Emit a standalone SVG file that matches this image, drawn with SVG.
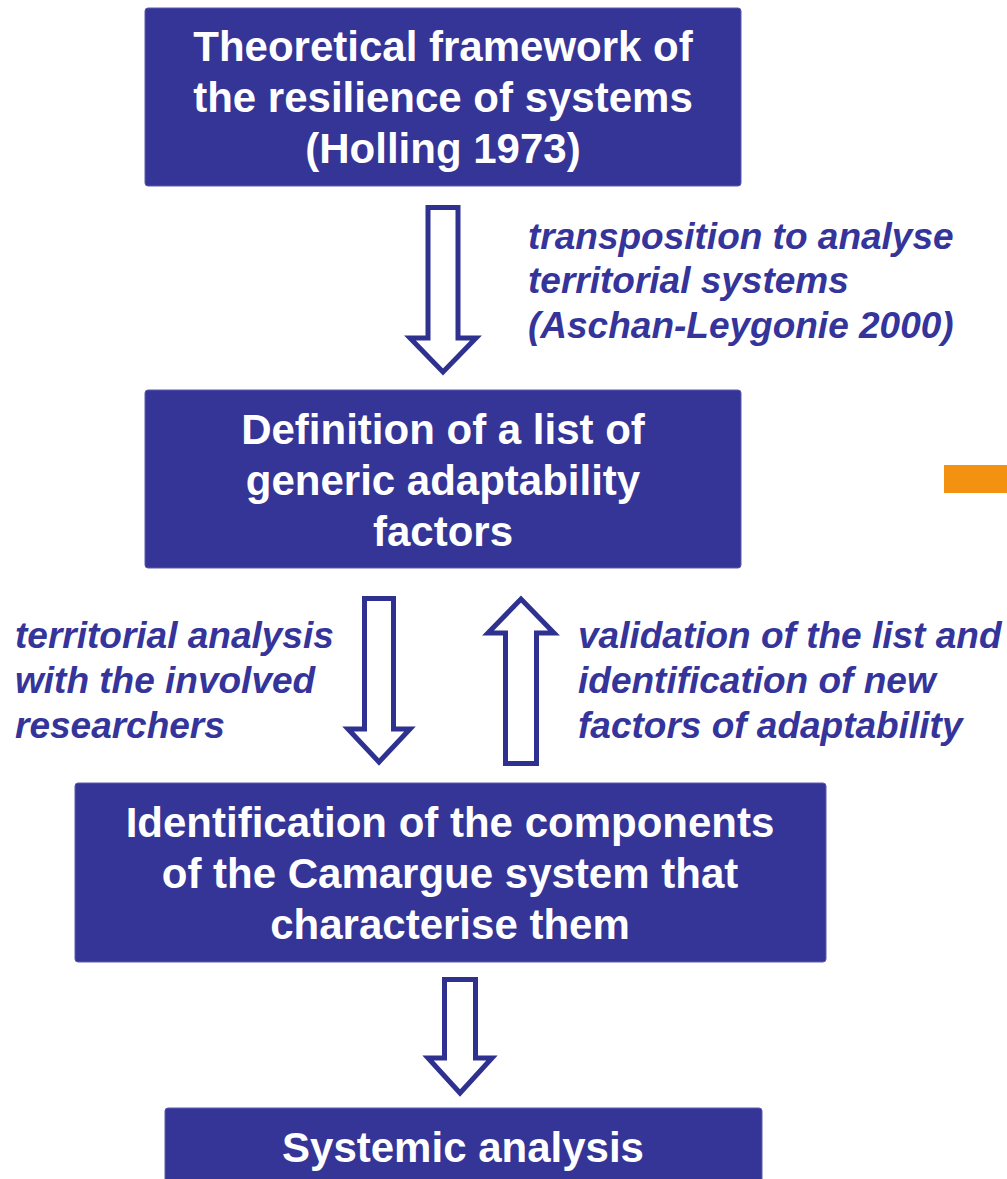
<svg xmlns="http://www.w3.org/2000/svg" width="1007" height="1179" viewBox="0 0 1007 1179">
<style>
.box{fill:#353598;stroke:#5a5ab0;stroke-width:1}
.bt{font-family:"Liberation Sans",Arial,sans-serif;font-weight:bold;font-size:42px;fill:#ffffff;text-anchor:middle}
.lb{font-family:"Liberation Sans",Arial,sans-serif;font-weight:bold;font-style:italic;font-size:37px;fill:#34349a}
.ar{fill:#ffffff;stroke:#2e3190;stroke-width:5;stroke-miterlimit:10}
</style>
<rect width="1007" height="1179" fill="#ffffff"/>
<g id="n1">
<rect class="box" x="145" y="8" width="596" height="178" rx="3"/>
<text class="bt" x="443" y="61">Theoretical framework of</text>
<text class="bt" x="443" y="112">the resilience of systems</text>
<text class="bt" x="443" y="163">(Holling 1973)</text>
</g>
<g id="n2">
<rect class="box" x="145" y="390" width="596" height="178" rx="3"/>
<text class="bt" x="443" y="444">Definition of a list of</text>
<text class="bt" x="443" y="495">generic adaptability</text>
<text class="bt" x="443" y="546">factors</text>
</g>
<g id="n3">
<rect class="box" x="75" y="783" width="751" height="179" rx="3"/>
<text class="bt" x="450" y="837">Identification of the components</text>
<text class="bt" x="450" y="888">of the Camargue system that</text>
<text class="bt" x="450" y="939">characterise them</text>
</g>
<g id="n4">
<rect class="box" x="165" y="1108" width="597" height="100" rx="3"/>
<text class="bt" x="463" y="1162">Systemic analysis</text>
</g>
<g id="deco">
<rect x="944" y="465" width="63" height="28" fill="#f39110"/>
</g>
<g id="connectors">
<polygon class="ar" points="428,207.5 458,207.5 458,338 476,338 443,372 410,338 428,338"/>
<polygon class="ar" points="364.5,598.5 393.5,598.5 393.5,729 410,729 379,762 348,729 364.5,729"/>
<polygon class="ar" points="505.5,763.5 536.5,763.5 536.5,633 554,633 521,599 488,633 505.5,633"/>
<polygon class="ar" points="444.5,979.5 475.5,979.5 475.5,1058 492,1058 460,1093 428,1058 444.5,1058"/>
</g>
<g id="labels">
<text class="lb" x="528" y="249">transposition to analyse</text>
<text class="lb" x="528" y="293">territorial systems</text>
<text class="lb" x="528" y="338">(Aschan-Leygonie 2000)</text>
<text class="lb" x="15" y="648">territorial analysis</text>
<text class="lb" x="15" y="693">with the involved</text>
<text class="lb" x="15" y="738">researchers</text>
<text class="lb" x="578" y="648">validation of the list and</text>
<text class="lb" x="578" y="693">identification of new</text>
<text class="lb" x="578" y="738">factors of adaptability</text>
</g>
</svg>
